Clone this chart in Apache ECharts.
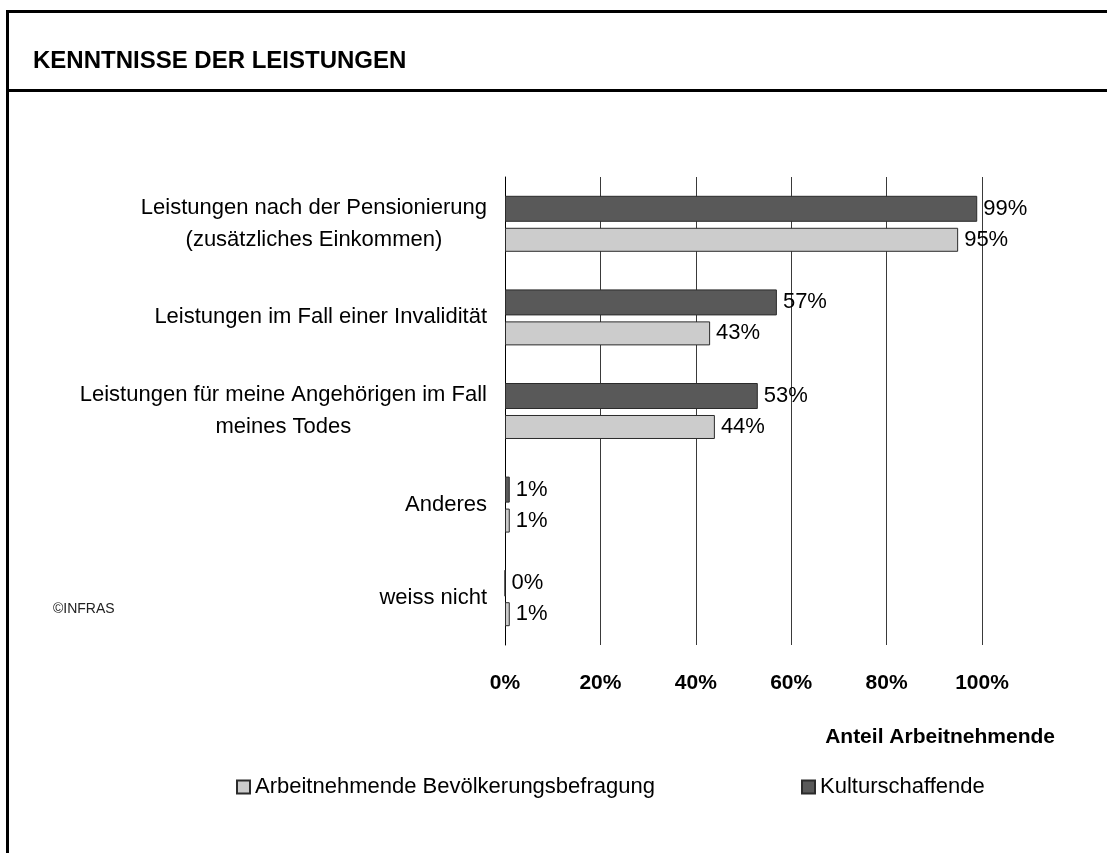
<!DOCTYPE html>
<html>
<head>
<meta charset="utf-8">
<script src="https://cdn.jsdelivr.net/npm/echarts@6/dist/echarts.min.js"></script>
<style>
  html, body { margin: 0; padding: 0; background: #fff; }
  #chart { width: 1107px; height: 853px; }
</style>
</head>
<body>
<div id="chart"></div>
<script>
const categories = [
  'Leistungen nach der Pensionierung\n(zusätzliches Einkommen)',
  'Leistungen im Fall einer Invalidität',
  'Leistungen für meine Angehörigen im Fall\nmeines Todes',
  'Anderes',
  'weiss nicht'
]
const kulturschaffende = [99, 57, 53, 1, 0]
const arbeitnehmende = [95, 43, 44, 1, 1]
const seriesNames = ['Kulturschaffende', 'Arbeitnehmende Bevölkerungsbefragung']
const axisName = 'Anteil Arbeitnehmende'
const titleText = 'KENNTNISSE DER LEISTUNGEN'

const font = '"Liberation Sans", Arial, sans-serif'
const chart = echarts.init(document.getElementById('chart'), null, { renderer: 'canvas' })

// centered lines inside a right-aligned label block
const catLabel = (v) => v.split('\n').map(l => '{c|' + l + '}').join('\n')

const legendBase = {
  orient: 'horizontal',
  top: 776,
  padding: 0,
  icon: 'rect',
  itemWidth: 13,
  itemHeight: 13,
  itemGap: 6,
  textStyle: { fontFamily: font, fontSize: 22, color: '#000' }
}

const option = {
  backgroundColor: '#fff',
  animation: false,
  title: {
    text: titleText,
    left: 33,
    top: 49,
    padding: 0,
    textStyle: { fontFamily: font, fontSize: 24, fontWeight: 'bold', color: '#000' }
  },
  legend: [
    Object.assign({}, legendBase, { left: 236, data: [seriesNames[1]] }),
    Object.assign({}, legendBase, { left: 801, data: [seriesNames[0]] })
  ],
  grid: { left: 505, right: 125, top: 177, height: 468, containLabel: false },
  xAxis: {
    type: 'value',
    min: 0,
    max: 100,
    interval: 20,
    name: axisName,
    nameLocation: 'end',
    nameGap: 73,
    nameTextStyle: {
      fontFamily: font, fontSize: 21, fontWeight: 'bold', color: '#000',
      align: 'right', verticalAlign: 'top', padding: [82, 0, 0, 0]
    },
    axisLine: { show: false },
    axisTick: { show: false },
    axisLabel: {
      formatter: '{value}%',
      margin: 28,
      fontFamily: font, fontSize: 21, fontWeight: 'bold', color: '#000'
    },
    splitLine: { show: true, lineStyle: { color: '#3a3a3a', width: 1 } }
  },
  yAxis: {
    type: 'category',
    data: categories,
    inverse: true,
    axisLine: { show: true, lineStyle: { color: '#000', width: 1 } },
    axisTick: { show: false },
    axisLabel: {
      margin: 18,
      align: 'right',
      formatter: catLabel,
      rich: {
        c: { align: 'center', fontFamily: font, fontSize: 22, lineHeight: 32, color: '#000' }
      }
    }
  },
  series: [
    {
      name: seriesNames[0],
      type: 'bar',
      data: kulturschaffende,
      barWidth: 26,
      barGap: '23%',
      itemStyle: { color: '#595959', borderColor: '#2b2b2b', borderWidth: 1 },
      label: {
        show: true, position: 'right', distance: 6, formatter: '{c}%',
        fontFamily: font, fontSize: 22, color: '#000'
      }
    },
    {
      name: seriesNames[1],
      type: 'bar',
      data: arbeitnehmende,
      barWidth: 24,
      itemStyle: { color: '#cccccc', borderColor: '#2b2b2b', borderWidth: 1 },
      label: {
        show: true, position: 'right', distance: 6, formatter: '{c}%',
        fontFamily: font, fontSize: 22, color: '#000'
      }
    }
  ],
  graphic: [
    { type: 'line', shape: { x1: 6, y1: 11.5, x2: 1107, y2: 11.5 }, style: { stroke: '#000', lineWidth: 3 } },
    { type: 'line', shape: { x1: 6, y1: 90.5, x2: 1107, y2: 90.5 }, style: { stroke: '#000', lineWidth: 3 } },
    { type: 'line', shape: { x1: 7.5, y1: 10, x2: 7.5, y2: 853 }, style: { stroke: '#000', lineWidth: 3 } },
    {
      type: 'text', left: 53, top: 602,
      style: { text: '©INFRAS', fontFamily: '"Liberation Sans Narrow", "Liberation Sans", sans-serif', fontSize: 14, fill: '#222' }
    }
  ]
}

chart.setOption(option)
</script>
</body>
</html>
